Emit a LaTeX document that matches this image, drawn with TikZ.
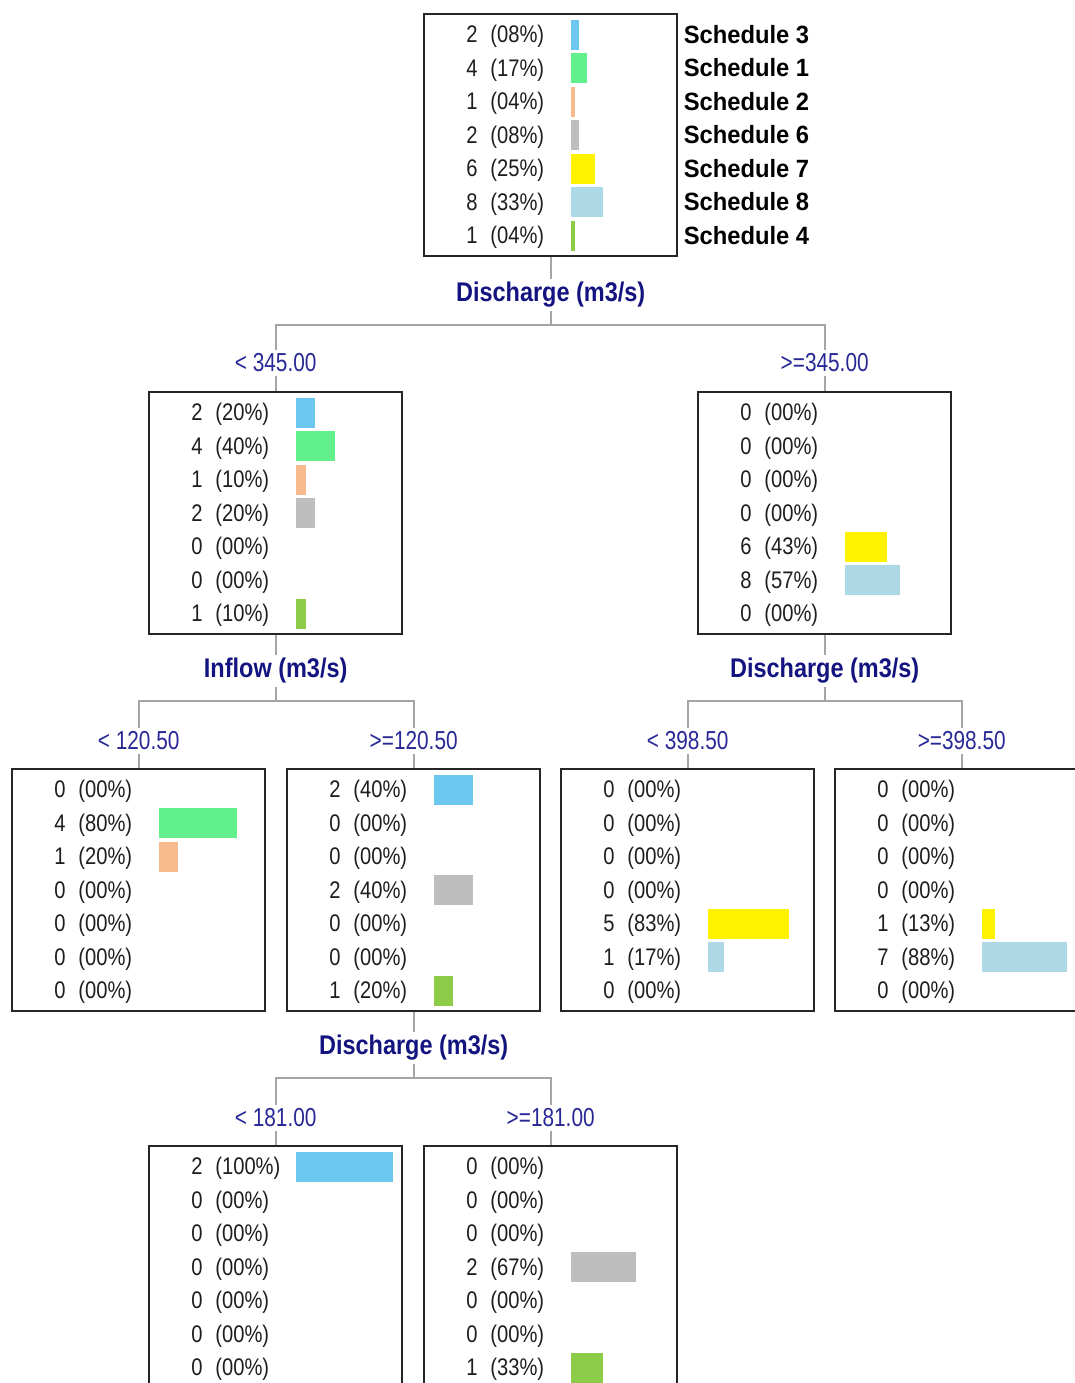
\documentclass[tikz,border=0pt]{standalone}
\usepackage{fontspec}
\setmainfont{Liberation Sans}
\newfontfamily\rowfont[FakeStretch=0.84]{Liberation Sans}
\newfontfamily\thrfont[FakeStretch=0.8]{Liberation Sans}
\newfontfamily\splitfont[FakeStretch=0.87]{Liberation Sans}
\newfontfamily\legfont[FakeStretch=0.95]{Liberation Sans}
\definecolor{bar0}{RGB}{108,200,238}
\definecolor{bar1}{RGB}{98,240,140}
\definecolor{bar2}{RGB}{246,186,140}
\definecolor{bar3}{RGB}{190,190,190}
\definecolor{bar4}{RGB}{255,242,0}
\definecolor{bar5}{RGB}{173,216,230}
\definecolor{bar6}{RGB}{140,204,72}
\definecolor{navy}{RGB}{20,20,128}
\definecolor{thrblue}{RGB}{40,40,150}
\definecolor{conngray}{RGB}{165,165,165}
\definecolor{txt}{RGB}{30,30,30}
\tikzset{
  boxst/.style={draw=black!85, line width=1.2pt, minimum width=126.5pt, minimum height=121pt, anchor=north west, inner sep=0pt},
  rowtxt/.style={text=txt, font=\rowfont\fontsize{12}{12}\selectfont, inner sep=0pt},
  leg/.style={text=black, font=\legfont\bfseries\fontsize{12.5}{12.5}\selectfont, inner sep=0pt},
  split/.style={text=navy, font=\splitfont\bfseries\fontsize{13.5}{13.5}\selectfont, inner sep=1.5pt},
  thr/.style={text=thrblue, font=\thrfont\fontsize{13}{13}\selectfont, inner sep=1.5pt},
  conn/.style={draw=conngray, line width=1pt}
}
\newcommand\treebox[4]{%
  \node[boxst] (#1) at (#2,#3) {};
  \foreach \c/\p/\w [count=\i from 0] in {#4} {
    \path (#1.north west) ++(55,29.5+33.5*\i) node[rowtxt,anchor=base east] {\c};
    \path (#1.north west) ++(67,29.5+33.5*\i) node[rowtxt,anchor=base west] {(\p\%)};
    \ifnum\w>0
      \path (#1.north west) ++(148,6.5+33.5*\i) coordinate (bartmp);
      \fill[bar\i] (bartmp) rectangle ++(0.97*\w,30);
    \fi
  }%
}
\begin{document}
\begin{tikzpicture}[x=0.5pt,y=-0.5pt]
\useasboundingbox (0,0) rectangle (1075,1383);
\fill[white] (0,0) rectangle (1075,1383);
\clip (0,0) rectangle (1075,1383);

\treebox{root}{423}{13}{2/08/8,4/17/17,1/04/4,2/08/8,6/25/25,8/33/33,1/04/4}
\foreach \s [count=\i from 0] in {3,1,2,6,7,8,4}
  \path (root.north east) ++(5,30+33.5*\i) node[leg,anchor=base west] (leg\i) {Schedule \s};

\treebox{A}{148}{391}{2/20/20,4/40/40,1/10/10,2/20/20,0/00/0,0/00/0,1/10/10}
\treebox{B}{697}{391}{0/00/0,0/00/0,0/00/0,0/00/0,6/43/43,8/57/57,0/00/0}
\treebox{C}{11}{768}{0/00/0,4/80/80,1/20/20,0/00/0,0/00/0,0/00/0,0/00/0}
\treebox{D}{286}{768}{2/40/40,0/00/0,0/00/0,2/40/40,0/00/0,0/00/0,1/20/20}
\treebox{E}{560}{768}{0/00/0,0/00/0,0/00/0,0/00/0,5/83/83,1/17/17,0/00/0}
\treebox{F}{834}{768}{0/00/0,0/00/0,0/00/0,0/00/0,1/13/13,7/88/88,0/00/0}
\treebox{G}{148}{1145}{2/100/100,0/00/0,0/00/0,0/00/0,0/00/0,0/00/0,0/00/0}
\treebox{H}{423}{1145}{0/00/0,0/00/0,0/00/0,2/67/67,0/00/0,0/00/0,1/33/33}

% split 1
\node[split] (s1) at (root.south |- 0,295) {Discharge (m3/s)};
\coordinate (j1) at (s1.south |- 0,325);
\node[thr] (t1) at (A.north |- 0,363) {< 345.00};
\node[thr] (t2) at (B.north |- 0,363) {>=345.00};
\draw[conn] (root.south) -- (s1.north);
\draw[conn] (s1.south) -- (j1);
\draw[conn] (t1.north) |- (j1) -| (t2.north);
\draw[conn] (t1.south) -- (A.north);
\draw[conn] (t2.south) -- (B.north);

% split 2
\node[split] (s2) at (A.south |- 0,671) {Inflow (m3/s)};
\coordinate (j2) at (s2.south |- 0,701);
\node[thr] (t3) at (C.north |- 0,741) {< 120.50};
\node[thr] (t4) at (D.north |- 0,741) {>=120.50};
\draw[conn] (A.south) -- (s2.north);
\draw[conn] (s2.south) -- (j2);
\draw[conn] (t3.north) |- (j2) -| (t4.north);
\draw[conn] (t3.south) -- (C.north);
\draw[conn] (t4.south) -- (D.north);

% split 3
\node[split] (s3) at (B.south |- 0,671) {Discharge (m3/s)};
\coordinate (j3) at (s3.south |- 0,701);
\node[thr] (t5) at (E.north |- 0,741) {< 398.50};
\node[thr] (t6) at (F.north |- 0,741) {>=398.50};
\draw[conn] (B.south) -- (s3.north);
\draw[conn] (s3.south) -- (j3);
\draw[conn] (t5.north) |- (j3) -| (t6.north);
\draw[conn] (t5.south) -- (E.north);
\draw[conn] (t6.south) -- (F.north);

% split 4
\node[split] (s4) at (D.south |- 0,1048) {Discharge (m3/s)};
\coordinate (j4) at (s4.south |- 0,1078);
\node[thr] (t7) at (G.north |- 0,1118) {< 181.00};
\node[thr] (t8) at (H.north |- 0,1118) {>=181.00};
\draw[conn] (D.south) -- (s4.north);
\draw[conn] (s4.south) -- (j4);
\draw[conn] (t7.north) |- (j4) -| (t8.north);
\draw[conn] (t7.south) -- (G.north);
\draw[conn] (t8.south) -- (H.north);
\end{tikzpicture}
\end{document}
